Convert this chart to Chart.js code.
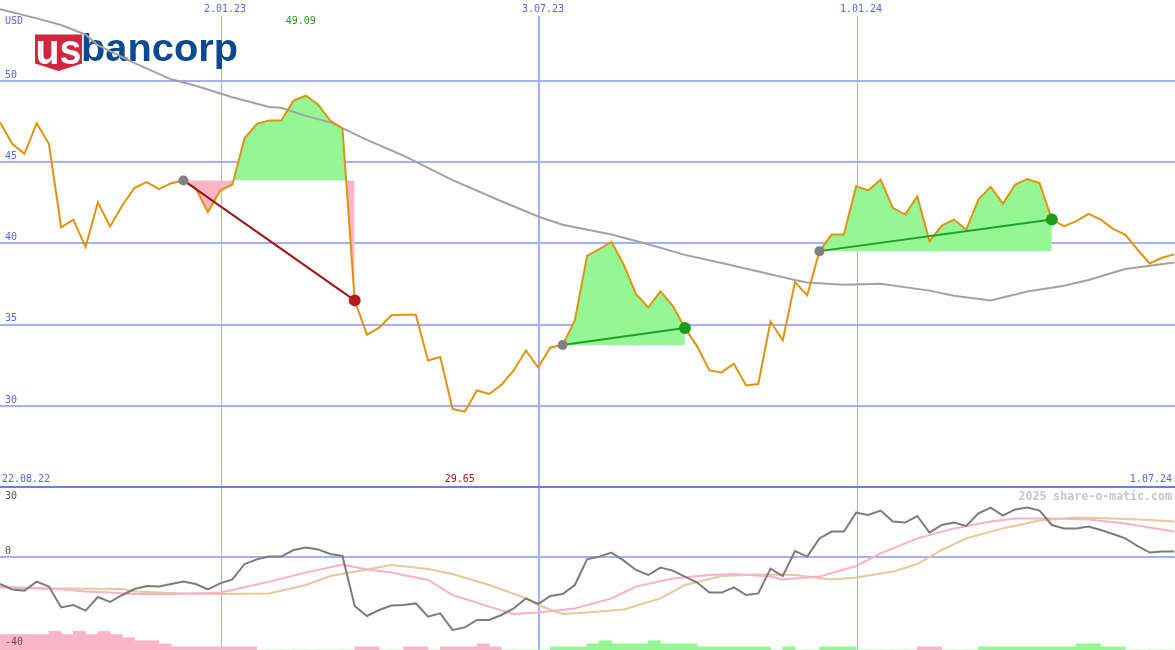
<!DOCTYPE html>
<html>
<head>
<meta charset="utf-8">
<title>U.S. Bancorp</title>
<script src="https://cdn.jsdelivr.net/npm/chart.js@4.4.1/dist/chart.umd.min.js"></script>
<style>
  body { margin: 0; background: #fdfefd; }
  #wrap { position: relative; width: 1175px; height: 650px; overflow: hidden; background: #fdfefd; }
  #priceChart { position: absolute; left: 0; top: 0; }
  #sep { position: absolute; left: 0; top: 486px; width: 1175px; height: 2px; background: #6c7ce8; }
  #oscChart { position: absolute; left: 0; top: 488px; }
</style>
</head>
<body>
<div id="wrap">
  <canvas id="priceChart" width="1175" height="486"></canvas>
  <div id="sep"></div>
  <canvas id="oscChart" width="1175" height="162"></canvas>
</div>
<script>
// weekly closes, 22.08.22 .. 1.07.24 (USD)
const price = [
  47.46, 46.13, 45.52, 47.40, 46.13, 41.00, 41.46, 39.78, 42.54, 41.05,
  42.34, 43.43, 43.77, 43.34, 43.71, 43.88, 43.40, 41.93, 43.26, 43.63,
  46.48, 47.36, 47.56, 47.56, 48.79, 49.09, 48.55, 47.56, 47.09, 36.50,
  34.39, 34.82, 35.58, 35.61, 35.61, 32.80, 33.01, 29.82, 29.65, 30.96,
  30.74, 31.31, 32.19, 33.42, 32.37, 33.60, 33.75, 35.26, 39.24, 39.66,
  40.10, 38.69, 36.89, 36.06, 37.05, 36.17, 34.80, 33.67, 32.19, 32.07,
  32.60, 31.27, 31.35, 35.20, 34.03, 37.63, 36.81, 39.53, 40.55, 40.55,
  43.52, 43.27, 43.93, 42.19, 41.78, 42.90, 40.14, 41.10, 41.47, 40.86,
  42.70, 43.48, 42.45, 43.62, 43.97, 43.72, 41.47, 41.06, 41.37, 41.82,
  41.47, 40.90, 40.55, 39.63, 38.77, 39.12, 39.33
];
const weeks = price.map((_, i) => i);

// long moving average (gray), read at these weeks
const maWeeks = [0, 3, 5, 7, 8, 11, 14, 16, 19, 22, 23, 25, 27, 30, 33, 37, 41, 44, 46, 50,
  53, 56, 59, 62, 65, 66, 69, 72, 76, 78, 81, 84, 87, 89, 92, 96];
const maValues = [54.41, 53.85, 53.44, 52.85, 52.2, 51.1, 50.1, 49.7, 49.0, 48.4, 48.35, 47.85,
  47.45, 46.37, 45.4, 43.9, 42.6, 41.66, 41.15, 40.55, 39.95, 39.3, 38.8, 38.28, 37.75, 37.6,
  37.46, 37.52, 37.1, 36.78, 36.49, 37.05, 37.4, 37.75, 38.43, 38.83];

// signals: start week, end week, kind
const signalStart = [15, 46, 67];
const signalEnd = [29, 56, 86];
const signalKind = ['sell', 'buy', 'buy'];

// momentum panel
const momentum = [
  -13.5, -16.2, -16.8, -12.3, -14.8, -25.2, -24, -26.8, -20, -22.5,
  -19, -16, -14.5, -14.8, -13.5, -12.3, -13.5, -16.2, -13.2, -11.2,
  -3.5, -1.2, 0.2, 0.2, 3.5, 4.7, 3.8, 1.5, 0.5, -24.5,
  -29.5, -26.5, -24.3, -24, -23.2, -29.8, -28.2, -36.5, -35.2, -31.5,
  -31.5, -29, -25.7, -20.7, -23.5, -19.5, -18.5, -14, -1.2, 0.2,
  2.2, -1.8, -6.5, -9, -5.3, -6.8, -9.8, -12.8, -17.8, -17.8,
  -15.2, -19, -18.2, -5.8, -9.5, 3, 0.2, 9.3, 12.7, 12.7,
  22.2, 21, 23.2, 17.7, 17.2, 20.5, 12.2, 16, 17.2, 15.5,
  21.8, 24.7, 20.7, 23.8, 24.7, 23.2, 16, 14.3, 14.3, 15.2,
  13.5, 11.5, 9.3, 5.5, 2.2, 2.7, 2.7
];
const pinkWeeks = [0, 3, 5, 7, 9, 11, 14, 16, 18, 19, 22, 25, 28, 30, 32, 35, 37, 40, 42, 44,
  47, 50, 52, 55, 58, 60, 63, 64, 67, 70, 72, 75, 78, 81, 83, 86, 89, 92, 94, 96];
const pinkValues = [-14.8, -15.7, -16.1, -17.3, -17.8, -18.5, -18.5, -18.2, -17.8, -16.5, -12.3,
  -7.8, -3.7, -6.2, -7.8, -11.5, -19, -24.8, -28.5, -27.8, -25.7, -20.7, -14.8, -10.7, -9, -8.5,
  -9.8, -11.2, -9.8, -4.5, 1.8, 9.3, 14.3, 17.7, 19.3, 19.3, 18.8, 16.8, 14.8, 12.7];
const tanWeeks = [0, 5, 10, 11, 15, 18, 22, 25, 27, 30, 32, 35, 37, 40, 43, 44, 46, 48, 51, 54,
  56, 59, 62, 65, 66, 68, 70, 73, 75, 77, 79, 82, 85, 88, 91, 94, 96];
const tanValues = [-15.2, -15.7, -16, -17.3, -18.2, -18.5, -18.2, -14, -9.5, -6.2, -4, -6, -8.5,
  -14, -20.7, -24, -28.5, -27.8, -26.2, -20.7, -14, -9.5, -8.7, -9, -9.8, -11.2, -10.2, -7.3,
  -3.5, 3.5, 9.3, 14.3, 18.2, 19.7, 19.3, 18.5, 17.7];
// histogram (one bar per week, sign = colour)
const hist = [
  -5, -5, -5, -5, -6, -5, -6, -5, -6, -5, -4, -3, -3, -2, -1, -1, -1, -1, -1, -1,
  -1, 0, 0, 0, 0, 0, 0, 0, 0, -1, -1, 0, 0, -1, -1, 0, -1, -1, -1, -2,
  -1, 0, 0, 0, 0, 1, 1, 1, 2, 3, 2, 2, 2, 3, 2, 2, 2, 1, 1, 1,
  1, 1, 1, 0, 1, 0, 0, 1, 1, 1, 0, 0, 0, 0, 0, -1, -1, 0, 0, 0,
  1, 1, 1, 1, 1, 1, 1, 1, 2, 2, 1, 1, 0, 0, 0, 0
];

// axis labels
const dateTicks = [18.07, 44.07, 70.07];
const dateLabels = ['2.01.23', '3.07.23', '1.01.24'];
const dateLineWidth = [1, 2, 1];
const priceTicks = [30, 35, 40, 45, 50];
const oscTicks = [30, 0, -40];
const firstDate = '22.08.22';
const lastDate = '1.07.24';

const BG = '#fdfefd';
const GRID = '#a5aff3';
const BLUE_TXT = '#5566ee';
const GREEN_FILL = '#94f794';
const PINK_FILL = '#fbb5c9';
const MONO = '"DejaVu Sans Mono", "Liberation Mono", monospace';

function fitText(ctx, txt, x, yBase, w) {
  const m = ctx.measureText(txt).width;
  ctx.save();
  ctx.translate(x, yBase);
  ctx.scale(w / m, 1);
  ctx.fillText(txt, 0, 0);
  ctx.restore();
}

function drawLogo(ctx) {
  ctx.save();
  ctx.fillStyle = '#d2263f';
  ctx.beginPath();
  ctx.moveTo(35, 34.5);
  ctx.lineTo(82, 34.5);
  ctx.lineTo(82, 63.5);
  ctx.lineTo(58.5, 71);
  ctx.lineTo(35, 63.5);
  ctx.closePath();
  ctx.fill();
  ctx.textBaseline = 'alphabetic';
  ctx.textAlign = 'left';
  ctx.fillStyle = '#ffffff';
  ctx.font = 'bold 42px "Liberation Sans", Arial, sans-serif';
  fitText(ctx, 'us', 35.5, 63.5, 46);
  ctx.fillStyle = '#0b4a8e';
  ctx.font = 'bold 38px "Liberation Sans", Arial, sans-serif';
  fitText(ctx, 'bancorp', 81, 61, 157);
  ctx.restore();
}

const maxIdx = price.indexOf(Math.max(...price));
const minIdx = price.indexOf(Math.min(...price));

const priceText = {
  id: 'priceText',
  beforeDatasetsDraw(chart) {
    drawLogo(chart.ctx);
  },
  afterDraw(chart) {
    const { ctx, scales: { x, y }, chartArea } = chart;
    ctx.save();
    ctx.font = '10px ' + MONO;
    ctx.textBaseline = 'middle';
    dateTicks.forEach((t, k) => {
      const px = x.getPixelForValue(t);
      ctx.fillStyle = BG;
      ctx.fillRect(px - 2, 0, 4, 16);
      ctx.fillStyle = BLUE_TXT;
      ctx.textAlign = 'center';
      ctx.fillText(dateLabels[k], px + 4, 9);
    });
    ctx.textAlign = 'left';
    ctx.fillStyle = BLUE_TXT;
    ctx.fillText('USD', 5, 21);
    priceTicks.forEach(v => ctx.fillText(String(v), 5, y.getPixelForValue(v) - 6));
    ctx.fillText(firstDate, 2, chartArea.bottom - 7);
    ctx.textAlign = 'right';
    ctx.fillText(lastDate, 1172, chartArea.bottom - 7);
    ctx.textAlign = 'center';
    ctx.fillStyle = '#1d9a1d';
    ctx.fillText(price[maxIdx].toFixed(2), x.getPixelForValue(maxIdx) - 5, 21);
    ctx.fillStyle = '#a01818';
    ctx.fillText(price[minIdx].toFixed(2), x.getPixelForValue(minIdx) - 5, chartArea.bottom - 7);
    ctx.restore();
  }
};

const oscText = {
  id: 'oscText',
  afterDraw(chart) {
    const { ctx, scales: { y }, chartArea } = chart;
    ctx.save();
    ctx.font = '10px ' + MONO;
    ctx.textBaseline = 'middle';
    ctx.textAlign = 'left';
    ctx.fillStyle = '#555555';
    oscTicks.forEach((v, k) => {
      let yy = y.getPixelForValue(v) - 6;
      if (k === 0) yy = chartArea.top + 8;
      if (k === oscTicks.length - 1) yy = chartArea.bottom - 8;
      ctx.fillText(String(v), 5, yy);
    });
    ctx.font = 'bold 11.6px ' + MONO;
    ctx.textAlign = 'right';
    ctx.fillStyle = '#c6c6c6';
    ctx.fillText('2025 share-o-matic.com', 1172, chartArea.top + 8.5);
    ctx.restore();
  }
};

function xAxis() {
  return {
    type: 'linear', min: 0, max: 96.07, offset: false,
    ticks: { display: false },
    border: { display: false },
    grid: { color: GRID, lineWidth: c => dateLineWidth[c.index] || 1, drawTicks: false, offset: false },
    afterBuildTicks: s => { s.ticks = dateTicks.map(v => ({ value: v })); }
  };
}

const pts = (xs, ys) => xs.map((w, i) => ({ x: w, y: ys[i] }));

// price panel datasets
const priceSets = [
  { data: pts(weeks, price), borderColor: '#dc9412', borderWidth: 2, pointRadius: 0, fill: false, order: 1 },
  { data: pts(maWeeks, maValues), borderColor: '#a2a2a2', borderWidth: 2, pointRadius: 0, fill: false, order: 2 }
];
signalStart.forEach((s, k) => {
  const e = signalEnd[k];
  const lvl = price[s];
  const levelIdx = priceSets.length;
  priceSets.push({ data: [{ x: s, y: lvl }, { x: e, y: lvl }], borderColor: 'transparent', borderWidth: 0,
    pointRadius: 0, fill: false, order: 4 });
  priceSets.push({ data: pts(weeks.slice(s, e + 1), price.slice(s, e + 1)), borderColor: 'transparent',
    borderWidth: 0, pointRadius: 0, fill: { target: levelIdx, above: GREEN_FILL, below: PINK_FILL }, order: 3 });
});
signalStart.forEach((s, k) => {
  const e = signalEnd[k];
  const endCol = signalKind[k] === 'sell' ? '#b01c1c' : '#1e9c1e';
  const lineCol = signalKind[k] === 'sell' ? '#9a1818' : '#22a022';
  priceSets.push({ data: [{ x: s, y: price[s] }, { x: e, y: price[e] }], borderColor: lineCol, borderWidth: 2,
    pointRadius: [5, 6], pointBackgroundColor: ['#808080', endCol], pointBorderColor: ['#808080', endCol],
    pointBorderWidth: 0, fill: false, order: 0 });
});

const common = {
  responsive: false, animation: false, events: [],
  layout: { padding: 0, autoPadding: false },
  elements: { line: { tension: 0 } },
  plugins: { legend: { display: false }, tooltip: { enabled: false } }
};

new Chart(document.getElementById('priceChart'), {
  type: 'line',
  data: { datasets: priceSets },
  options: Object.assign({}, common, {
    scales: {
      x: xAxis(),
      y: {
        min: 25.08, max: 54.98,
        ticks: { display: false },
        border: { display: false },
        grid: { color: GRID, lineWidth: 2, drawTicks: false },
        afterBuildTicks: s => { s.ticks = priceTicks.map(v => ({ value: v })); }
      }
    }
  }),
  plugins: [priceText]
});

new Chart(document.getElementById('oscChart'), {
  type: 'line',
  data: {
    datasets: [
      { type: 'bar', data: hist.map((h, i) => ({ x: i + 0.5, y: Math.abs(h) })), yAxisID: 'yb',
        backgroundColor: hist.map(h => h < 0 ? PINK_FILL : GREEN_FILL), borderWidth: 0,
        barPercentage: 1, categoryPercentage: 1, order: 5 },
      { data: pts(tanWeeks, tanValues), borderColor: '#e3c99b', borderWidth: 2, pointRadius: 0, order: 3 },
      { data: pts(pinkWeeks, pinkValues), borderColor: '#f9b1c8', borderWidth: 2, pointRadius: 0, order: 2 },
      { data: pts(weeks, momentum), borderColor: '#7c7c7c', borderWidth: 2, pointRadius: 0, order: 1 }
    ]
  },
  options: Object.assign({}, common, {
    scales: {
      x: xAxis(),
      y: {
        min: -46.5, max: 34.5,
        ticks: { display: false },
        border: { display: false },
        grid: { color: GRID, lineWidth: 2, drawTicks: false },
        afterBuildTicks: s => { s.ticks = [{ value: 0 }]; }
      },
      yb: { display: false, min: 0, max: 52.3 }
    }
  }),
  plugins: [oscText]
});
</script>
</body>
</html>
